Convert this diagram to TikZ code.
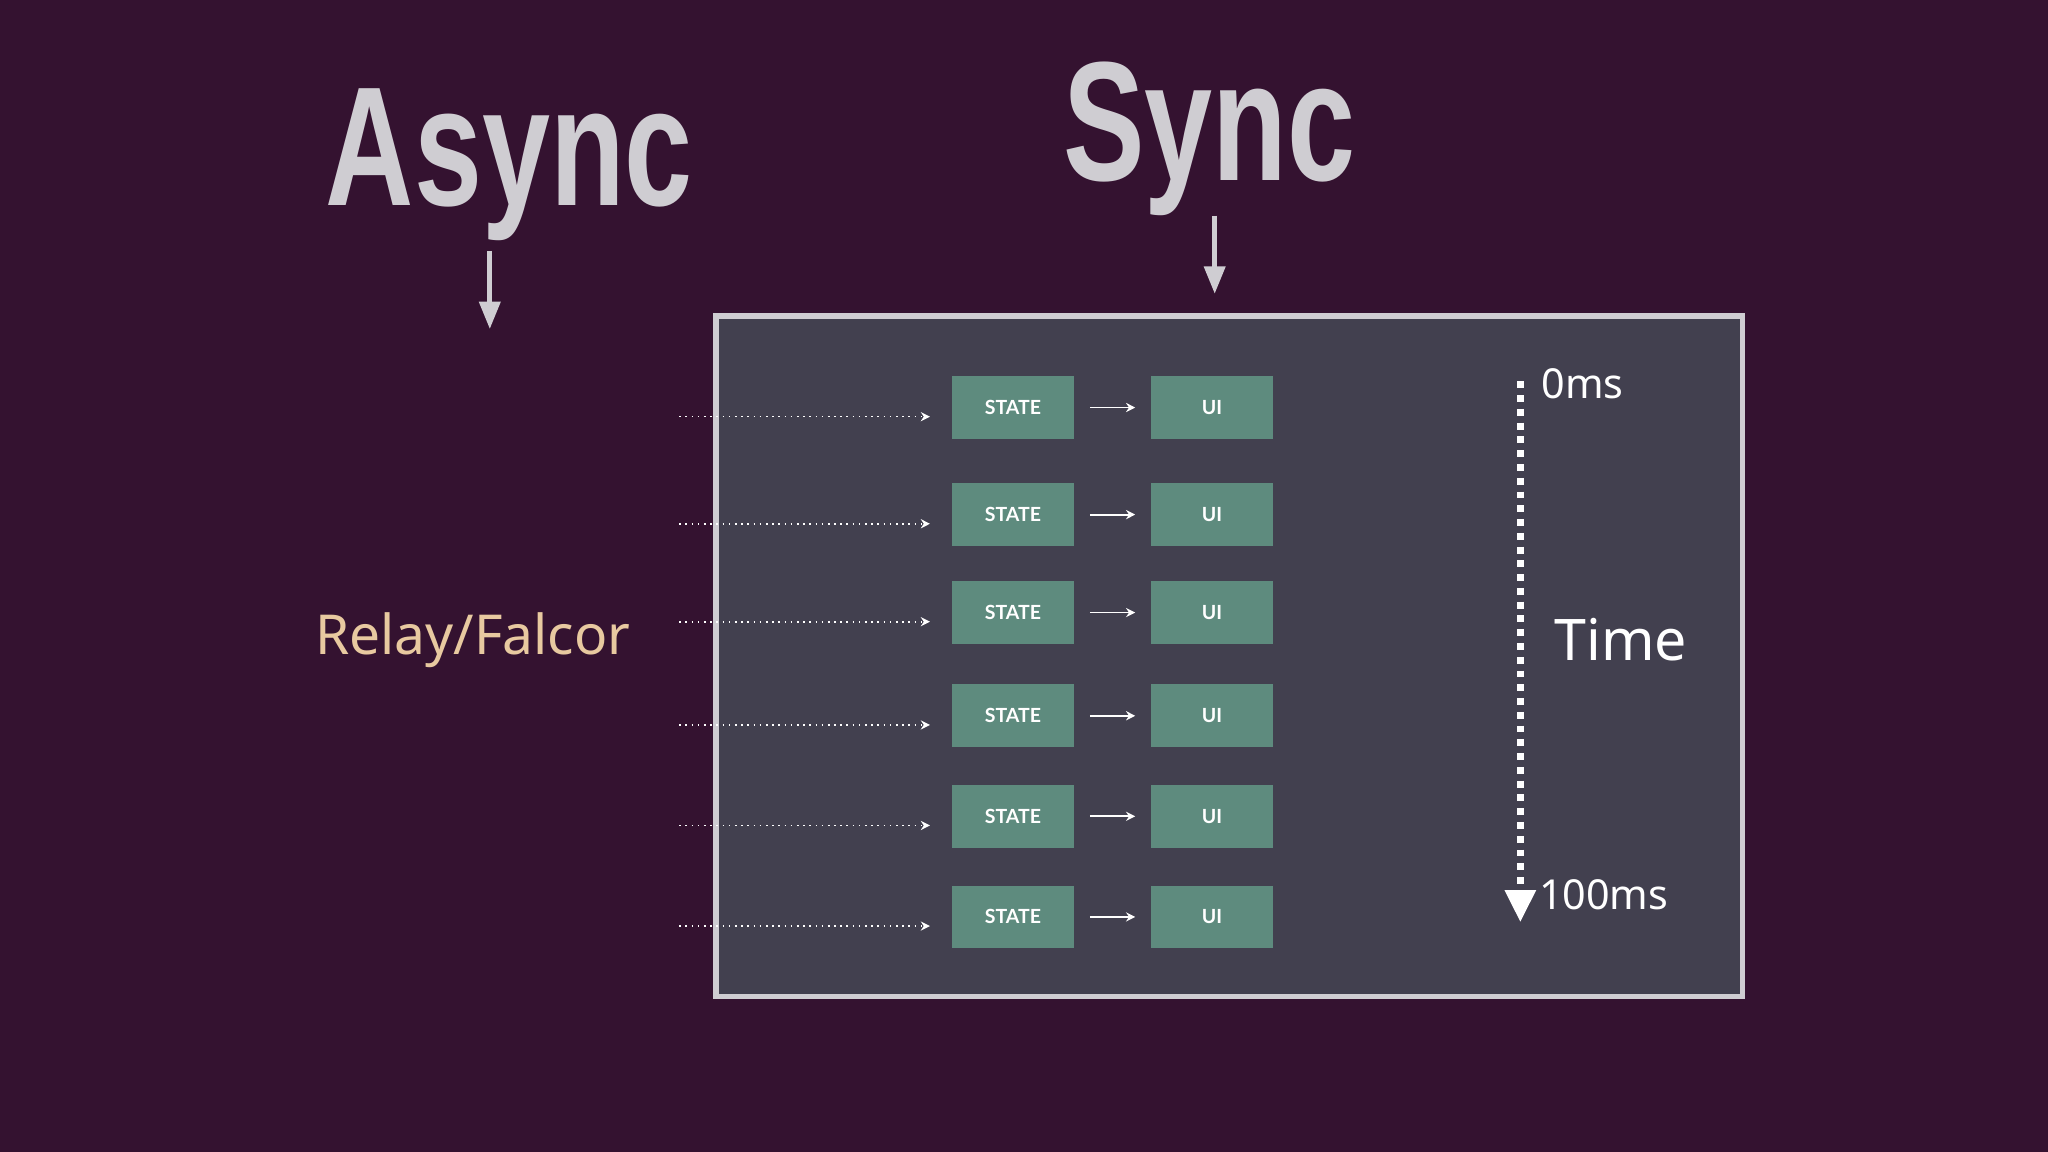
\documentclass[tikz,border=0pt]{standalone}
\usepackage{fontspec}
\setmainfont{Noto Sans}
\newfontfamily\headf{Liberation Sans}
\newfontfamily\boxf{Lato}
\usetikzlibrary{arrows.meta}
\definecolor{bgc}{HTML}{341230}
\definecolor{boxc}{HTML}{42404F}
\definecolor{grn}{HTML}{5E8B7E}
\definecolor{lg}{HTML}{CFCDD2}
\definecolor{tan}{HTML}{E8C9A0}
\begin{document}
\begin{tikzpicture}[x=0.02cm,y=-0.02cm,
  blk/.style={draw=none,fill=grn,minimum width=93*0.02cm,minimum height=48*0.02cm,inner sep=0,text=white,font=\boxf\bfseries\fontsize{8.5}{9}\selectfont},
  head/.style={text=lg,font=\headf\bfseries\fontsize{74}{74}\selectfont,xscale=0.72,inner sep=0},
  big/.style={-{Triangle[length=12pt,width=9pt]},line width=2.2pt,draw=lg},
  sm/.style={-{Stealth[length=4pt,width=4pt]},white,line width=0.8pt},
  dot/.style={-{Stealth[length=4pt,width=4pt]},white,dotted,line width=0.7pt}]
\fill[bgc] (0,0) rectangle (1568,882);
\useasboundingbox (0,0) rectangle (1568,882);
\node[head] (async) at (390,126) {Async};
\node[head] (sync) at (926,106) {Sync};
\coordinate (a1) at (375,192); \coordinate (a2) at (375,252);
\coordinate (s1) at (930,165); \coordinate (s2) at (930,225);
\draw[big] (a1) -- (a2);
\draw[big] (s1) -- (s2);
\node[text=tan,font=\fontsize{24}{26}\selectfont] (relay) at (362,490) {Relay/Falcor};
\draw[lg,line width=2.5pt,fill=boxc] (548,242) rectangle (1334,763);
\foreach \y [count=\i] in {312,394,469,548,625,702}{
  \node[blk] (st\i) at (775.5,\y) {STATE};
  \node[blk] (ui\i) at (928,\y) {UI};
  \coordinate (d\i) at (520,\y+7);
  \coordinate (e\i) at (712,\y+7);
  \draw[sm] ([xshift=12*0.02cm]st\i.east) -- ([xshift=-12*0.02cm]ui\i.west);
  \draw[dot] (d\i) -- (e\i);
}
\coordinate (t1) at (1164,292); \coordinate (t2) at (1164,706);
\draw[white,line width=3pt,dash pattern=on 3pt off 3pt,-{Triangle[length=14pt,width=13pt]}] (t1) -- (t2);
\node[white,anchor=west,font=\fontsize{18}{20}\selectfont,inner sep=0] (z) at (1180,294) {0ms};
\node[white,anchor=west,font=\fontsize{18}{20}\selectfont,inner sep=0] (h) at (1178,685) {100ms};
\node[white,font=\fontsize{25}{28}\selectfont] (time) at (1241,490) {Time};
\end{tikzpicture}
\end{document}
